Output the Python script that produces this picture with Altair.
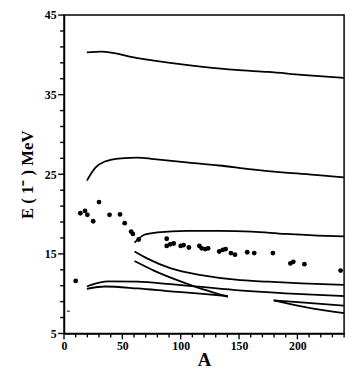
import altair as alt
import pandas as pd

# Measured points (A, E)
pts_A = [10, 14, 18, 20, 25, 30, 39, 48, 52, 57.5, 59, 64,
         88, 88, 91, 94, 100, 102.5, 107,
         116, 118, 121, 123.5,
         133, 136, 138.5, 143, 146.5,
         157, 163, 179,
         194, 196.5, 206, 237]
pts_E = [11.6, 20.1, 20.4, 19.9, 19.1, 21.5, 19.9, 19.95, 18.85, 17.8, 17.5, 16.8,
         16.9, 16.0, 16.2, 16.3, 16.0, 16.1, 15.8,
         16.0, 15.7, 15.6, 15.7,
         15.3, 15.5, 15.6, 15.1, 14.9,
         15.2, 15.1, 15.1,
         13.8, 14.0, 13.7, 12.9]

# Theoretical curves
c1_A = [19.6, 32, 63, 91, 119, 147, 175, 203.5, 240]
c1_E = [40.3, 40.4, 39.6, 39.0, 38.5, 38.1, 37.85, 37.5, 37.1]
c2_A = [19.6, 26.7, 35, 49, 63, 77, 105, 133, 161, 189.5, 217.5, 240]
c2_E = [24.2, 25.8, 26.6, 27.0, 27.1, 26.9, 26.5, 26.1, 25.6, 25.2, 24.9, 24.6]
c3_A = [60.4, 68.8, 80, 105, 133, 161, 189.5, 217.5, 240]
c3_E = [16.4, 17.4, 17.7, 17.9, 17.9, 17.8, 17.5, 17.3, 17.2]
c4_A = [60.4, 71.6, 91, 119, 147, 175, 203.5, 240]
c4_E = [15.3, 14.4, 13.2, 12.3, 11.75, 11.5, 11.3, 11.1]
c5_A = [60.4, 77, 97, 114, 130.5, 140.4]
c5_E = [14.1, 12.9, 11.7, 10.8, 10.05, 9.6]
c6_A = [19.6, 29.5, 38, 63, 91, 147, 189.5, 240]
c6_E = [10.9, 11.35, 11.55, 11.5, 11.2, 10.45, 10.05, 9.7]
c7_A = [19.6, 35, 63, 91, 119, 140.4]
c7_E = [10.6, 10.9, 10.65, 10.3, 9.97, 9.7]
c8_A = [179.7, 209, 240]
c8_E = [9.16, 8.85, 8.5]
c9_A = [179.7, 209, 240]
c9_E = [9.16, 8.24, 7.55]

stray_A = [2.5]
stray_A2 = [5.0]
stray_E = [7.8]

# Axis ticks
x_major_values = [0, 50, 100, 150, 200]
x_minor_values = [v for v in range(0, 241, 10) if v % 50 != 0]
y_major_values = [5, 15, 25, 35, 45]
y_minor_values = [v for v in range(5, 46, 2) if (v - 5) % 10 != 0]

PLOT_W, PLOT_H = 285, 324

curves = [c1_A, c2_A, c3_A, c4_A, c5_A, c6_A, c7_A, c8_A, c9_A]
curvesE = [c1_E, c2_E, c3_E, c4_E, c5_E, c6_E, c7_E, c8_E, c9_E]
rows = []
for i, (xa, ya) in enumerate(zip(curves, curvesE)):
    for a, e in zip(xa, ya):
        rows.append({"curve": f"c{i+1}", "A": a, "E": e})
curve_df = pd.DataFrame(rows)
pts_df = pd.DataFrame({"A": pts_A, "E": pts_E})
stray_df = pd.DataFrame({"A": stray_A, "A2": stray_A2, "E": stray_E})

LF = "Liberation Serif"

xscale = alt.Scale(domain=[0, 240], nice=False, zero=False)
yscale = alt.Scale(domain=[5, 45], nice=False, zero=False)

xaxis = alt.Axis(
    values=x_major_values, ticks=False,
    title="A", titleFontSize=19, titlePadding=0, labelPadding=7,
)
yaxis = alt.Axis(
    values=y_major_values, ticks=False,
    title="E ( 1⁻ )  MeV", titleFontSize=17, titlePadding=8, labelPadding=8,
)

X = alt.X("A:Q", scale=xscale, axis=xaxis)
Y = alt.Y("E:Q", scale=yscale, axis=yaxis)

lines = alt.Chart(curve_df).mark_line(
    color="black", strokeWidth=1.8, interpolate="monotone", clip=True
).encode(x=X, y=Y, detail="curve:N", order="A:Q")

points = alt.Chart(pts_df).mark_circle(color="black", size=24, opacity=1, clip=True).encode(
    x=X, y=Y,
)

stray = alt.Chart(stray_df).mark_rule(color="black", strokeWidth=1).encode(
    x=X, x2="A2:Q", y=Y,
)


def xtick_layer(vals, length):
    return alt.Chart(pd.DataFrame({"A": vals})).mark_rule(
        color="black", strokeWidth=1.4, clip=False
    ).encode(x=X, y=alt.value(PLOT_H), y2=alt.value(PLOT_H + length))


def ytick_layer(vals, length):
    return alt.Chart(pd.DataFrame({"E": vals})).mark_rule(
        color="black", strokeWidth=1.4, clip=False
    ).encode(y=Y, x=alt.value(0), x2=alt.value(-length))


chart = alt.layer(
    lines, points, stray,
    xtick_layer(x_major_values, 6), xtick_layer(x_minor_values, 4),
    ytick_layer(y_major_values, 6), ytick_layer(y_minor_values, 4),
).properties(
    width=PLOT_W, height=PLOT_H,
    autosize=alt.AutoSizeParams(type="none"),
    padding={"left": 57, "top": 4, "right": 5, "bottom": 34},
    background="white",
).configure_view(stroke="black", strokeWidth=1.5).configure_axis(
    grid=False, labelFlush=False, labelOverlap=False,
    labelFont=LF, labelFontSize=12, labelFontWeight="bold", labelColor="black",
    titleFont=LF, titleFontWeight="bold", titleColor="black",
    domainColor="black", domainWidth=1.5,
)

chart.save("out.html", embed_options={"renderer": "svg", "actions": False})
